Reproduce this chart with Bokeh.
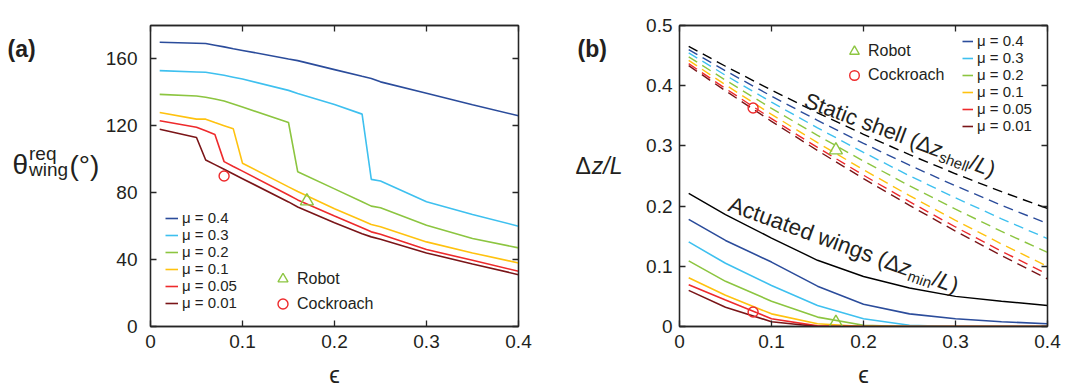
import math
from bokeh.plotting import figure
from bokeh.models import (Label, Legend, LegendItem, LinearAxis, FixedTicker,
                          CustomJSTickFormatter, Range1d)
from bokeh.layouts import row
from bokeh.embed import file_html
from bokeh.resources import INLINE

# ---------------- data ----------------
mu_labels = ["μ = 0.4", "μ = 0.3", "μ = 0.2", "μ = 0.1", "μ = 0.05", "μ = 0.01"]
mu_colors = ["#2B4C9B", "#3EC0EF", "#8CC540", "#FFC20F", "#EE2A2C", "#7A1518"]

# panel (a): required wing angle vs epsilon
eps_a = [0.01, 0.05, 0.06, 0.07, 0.08, 0.09, 0.10, 0.15, 0.16, 0.20, 0.23, 0.24, 0.25, 0.30, 0.35, 0.40]
theta_mu_04 = [170.0, 169.4, 169.2, 168.2, 167.2, 166.1, 165.1, 160.0, 159.0, 153.6, 149.6, 148.3, 146.3, 139.5, 132.6, 126.0]
theta_mu_03 = [153.0, 152.2, 152.0, 151.1, 150.2, 149.1, 148.0, 141.2, 139.4, 132.8, 127.0, 88.0, 87.0, 74.6, 67.0, 60.0]
theta_mu_02 = [138.8, 137.8, 137.1, 136.0, 134.8, 133.0, 131.2, 122.0, 92.6, 82.3, 74.6, 72.0, 71.0, 60.6, 52.6, 47.0]
theta_mu_01 = [128.0, 124.0, 124.0, 122.0, 120.1, 118.2, 97.6, 83.5, 80.7, 70.4, 63.4, 61.0, 59.6, 50.6, 44.0, 38.0]
theta_mu_005 = [123.0, 119.2, 117.0, 114.8, 98.6, 95.7, 92.9, 78.6, 75.7, 66.1, 59.0, 56.6, 55.2, 46.0, 39.6, 33.0]
theta_mu_001 = [118.0, 113.0, 99.6, 96.8, 94.0, 91.2, 88.4, 74.5, 71.5, 62.0, 55.5, 53.6, 52.2, 44.0, 37.4, 31.0]
theta_series = [theta_mu_04, theta_mu_03, theta_mu_02, theta_mu_01, theta_mu_005, theta_mu_001]

robot_a = (0.17, 75.0)
cockroach_a = (0.08, 90.0)

# panel (b): height change vs epsilon
eps_b = [0.01, 0.05, 0.10, 0.15, 0.20, 0.25, 0.30, 0.35, 0.40]
shell_black = [0.4655, 0.4323, 0.3926, 0.3550, 0.3192, 0.2854, 0.2537, 0.2239, 0.196]
shell_mu_04 = [0.460, 0.4248, 0.3826, 0.3424, 0.3042, 0.2679, 0.2337, 0.2013, 0.171]
shell_mu_03 = [0.4545, 0.4173, 0.3726, 0.3299, 0.2892, 0.2504, 0.2137, 0.1789, 0.146]
shell_mu_02 = [0.448, 0.4092, 0.3623, 0.3175, 0.2747, 0.2338, 0.1949, 0.1580, 0.123]
shell_mu_01 = [0.442, 0.4014, 0.3524, 0.3054, 0.2604, 0.2173, 0.1763, 0.1371, 0.100]
shell_mu_005 = [0.4367, 0.3953, 0.3453, 0.2974, 0.2513, 0.2073, 0.1653, 0.1251, 0.087]
shell_mu_001 = [0.4333, 0.3915, 0.3408, 0.2923, 0.2457, 0.2011, 0.1584, 0.1177, 0.079]
shell_series = [shell_mu_04, shell_mu_03, shell_mu_02, shell_mu_01, shell_mu_005, shell_mu_001]

wing_black = [0.221, 0.186, 0.147, 0.110, 0.083, 0.064, 0.050, 0.042, 0.035]
wing_mu_04 = [0.178, 0.143, 0.107, 0.067, 0.037, 0.021, 0.013, 0.008, 0.0045]
wing_mu_03 = [0.1405, 0.105, 0.068, 0.035, 0.013, 0.002, 0.0, 0.0, 0.0]
wing_mu_02 = [0.109, 0.075, 0.042, 0.0156, 0.002, 0.0, 0.0, 0.0, 0.0]
wing_mu_01 = [0.081, 0.052, 0.021, 0.0045, 0.0, 0.0, 0.0, 0.0, 0.0]
wing_mu_005 = [0.0695, 0.044, 0.013, 0.001, 0.0, 0.0, 0.0, 0.0, 0.0]
wing_mu_001 = [0.060, 0.032, 0.008, 0.0, 0.0, 0.0, 0.0, 0.0, 0.0]
wing_series = [wing_mu_04, wing_mu_03, wing_mu_02, wing_mu_01, wing_mu_005, wing_mu_001]

robot_b = ([0.17, 0.17], [0.293, 0.0065])
cockroach_b = ([0.08, 0.08], [0.363, 0.024])

x_ticks = [0, 0.1, 0.2, 0.3, 0.4]
ya_ticks = [0, 40, 80, 120, 160]
yb_ticks = [0, 0.1, 0.2, 0.3, 0.4, 0.5]

# ---------------- style helpers ----------------
FONT = "Liberation Sans"
INK = "#231F20"
AX = "#262626"
H = 391
W = {' ': 0.278, '(': 0.333, ')': 0.333, '/': 0.278, 'A': 0.667, 'L': 0.556, 'S': 0.667,
     'a': 0.556, 'c': 0.5, 'd': 0.556, 'e': 0.556, 'g': 0.556, 'h': 0.556, 'i': 0.222,
     'l': 0.222, 'm': 0.833, 'n': 0.556, 's': 0.5, 't': 0.278, 'u': 0.556, 'w': 0.722,
     'z': 0.5, 'Δ': 0.668}


def adv(s, size):
    return sum(W.get(ch, 0.556) for ch in s) * size


def put(p, text, x, y, size, style="normal", align="left", angle=0.0, units="screen"):
    p.add_layout(Label(x=x, y=y, x_units=units, y_units=units, text=text,
                       text_font=FONT, text_font_size=f"{size}px", text_font_style=style,
                       text_color=INK, text_align=align, text_baseline="alphabetic",
                       angle=angle, angle_units="deg"))


def rich(p, pieces, sx, sy, angle):
    a = math.radians(angle)
    ux, uy = math.cos(a), math.sin(a)
    nx, ny = math.sin(a), -math.cos(a)
    t = 0.0
    for text, size, style, down in pieces:
        put(p, text, sx + t * ux + down * nx, sy + t * uy + down * ny, size, style, angle=angle)
        t += adv(text, size)


fmt = CustomJSTickFormatter(code="return String(Math.round(tick*100)/100)")
blank = CustomJSTickFormatter(code="return ''")


def make_fig(width, left, right, yr, yt, ystand):
    p = figure(width=width, height=H, x_range=Range1d(0, 0.4), y_range=Range1d(*yr),
               output_backend="svg", toolbar_location=None,
               min_border_left=left, min_border_right=right, min_border_top=25,
               min_border_bottom=H - 25 - 301,
               background_fill_color="white", border_fill_color="white",
               outline_line_color=AX, outline_line_width=1.3)
    p.grid.visible = False
    p.add_layout(LinearAxis(), "right")
    p.add_layout(LinearAxis(), "above")
    for ax in p.xaxis:
        ax.ticker = FixedTicker(ticks=x_ticks)
    for ax in p.yaxis:
        ax.ticker = FixedTicker(ticks=yt)
    for ax in p.axis:
        ax.formatter = fmt
        ax.axis_line_color = AX
        ax.axis_line_width = 1.3
        ax.major_tick_line_color = AX
        ax.major_tick_line_width = 1.3
        ax.major_tick_in = 6
        ax.major_tick_out = 0
        ax.minor_tick_line_color = None
        ax.major_label_text_font = FONT
        ax.major_label_text_font_size = "19px"
        ax.major_label_text_color = INK
    for ax in p.above + p.right:
        ax.formatter = blank
        ax.major_label_standoff = 0
    for ax in p.below:
        ax.major_label_standoff = 8
        ax.axis_label = "ϵ"
        ax.axis_label_text_font = FONT
        ax.axis_label_text_font_style = "normal"
        ax.axis_label_text_font_size = "24px"
        ax.axis_label_text_color = INK
        ax.axis_label_standoff = 10
    for ax in p.left:
        ax.major_label_standoff = ystand
    return p


def side(width):
    f = figure(width=width, height=H, x_range=Range1d(0, width), y_range=Range1d(0, H),
               x_axis_type=None, y_axis_type=None, min_border=0, outline_line_color=None,
               output_backend="svg", toolbar_location=None,
               background_fill_color="white", border_fill_color="white")
    f.grid.visible = False
    return f


def leg(p, items, x, y, gw, gh, lh, spacing, standoff, fs):
    lg = Legend(items=items, location=(x, y), glyph_width=gw, glyph_height=gh,
                label_height=lh, spacing=spacing, padding=2, margin=0,
                label_standoff=standoff, label_text_font=FONT, label_text_font_size=f"{fs}px",
                label_text_color=INK, border_line_color=None, background_fill_alpha=0)
    p.add_layout(lg)


# ---------------- panel (a) ----------------
fa = side(102)
put(fa, "(a)", 7, H - 31, 23, "bold", units="data")
put(fa, "θ", 12, H - 180, 28, units="data")
put(fa, "req", 28.5, H - 166.5, 19, units="data")
put(fa, "wing", 28.5, H - 186.5, 19, units="data")
put(fa, "(°)", 69, H - 182, 28, units="data")

pa = make_fig(435, 47, 19, (0, 180), ya_ticks, 13)
rends_a = []
for ys, c in zip(theta_series, mu_colors):
    rends_a.append(pa.line(eps_a, ys, line_color=c, line_width=1.6))
ra = pa.scatter([robot_a[0]], [robot_a[1]], marker="triangle", size=13, fill_color=None,
                line_color="#8CC540", line_width=1.4)
ca = pa.scatter([cockroach_a[0]], [cockroach_a[1]], marker="circle", size=10, fill_color=None,
                line_color="#EE2A2C", line_width=1.4)
leg(pa, [LegendItem(label=l, renderers=[r]) for l, r in zip(mu_labels, rends_a)],
    15, 15, 13, 16, 16, 0, 4, 15)
leg(pa, [LegendItem(label="Robot", renderers=[ra]), LegendItem(label="Cockroach", renderers=[ca])],
    120, 10, 25, 25, 16, 0, 2, 16)

# ---------------- panel (b) ----------------
fb = side(97)
put(fb, "(b)", 40, H - 31, 23, "bold", units="data")
put(fb, "Δ", 38, H - 182, 23, units="data")
put(fb, "z/L", 38 + adv("Δ", 23) + 1, H - 182, 23, "italic", units="data")

pb = make_fig(443, 45, 30, (0, 0.5), yb_ticks, 7)
pb.line(eps_b, shell_black, line_color="black", line_width=1.4, line_dash="10 6")
for ys, c in zip(shell_series, mu_colors):
    pb.line(eps_b, ys, line_color=c, line_width=1.4, line_dash="10 6")
pb.line(eps_b, wing_black, line_color="black", line_width=1.4)
rends_b = []
for ys, c in zip(wing_series, mu_colors):
    rends_b.append(pb.line(eps_b, ys, line_color=c, line_width=1.6))
rb = pb.scatter(robot_b[0], robot_b[1], marker="triangle", size=13, fill_color=None,
                line_color="#8CC540", line_width=1.4)
cb = pb.scatter(cockroach_b[0], cockroach_b[1], marker="circle", size=10, fill_color=None,
                line_color="#EE2A2C", line_width=1.4)
leg(pb, [LegendItem(label=l, renderers=[r]) for l, r in zip(mu_labels, rends_b)],
    283, 192, 11, 16, 16, 0, 4, 15)
leg(pb, [LegendItem(label="Robot", renderers=[rb]), LegendItem(label="Cockroach", renderers=[cb])],
    163, 239, 24, 24, 16, 0, 2, 16)

rich(pb, [("Static shell (Δ", 22, "normal", 0), ("z", 22, "italic", 0),
          ("shell", 15, "normal", 6), ("/", 22, "normal", 0), ("L", 22, "italic", 0),
          (")", 22, "normal", 0)], 126, 227, -20.5)
rich(pb, [("Actuated wings (Δ", 22.5, "normal", 0), ("z", 22.5, "italic", 0),
          ("min", 15, "normal", 6), ("/", 22.5, "normal", 0), ("L", 22.5, "italic", 0),
          (")", 22.5, "normal", 0)], 50, 123, -20)

layout = row(fa, pa, fb, pb)
open("out.html", "w").write(file_html(layout, INLINE))
